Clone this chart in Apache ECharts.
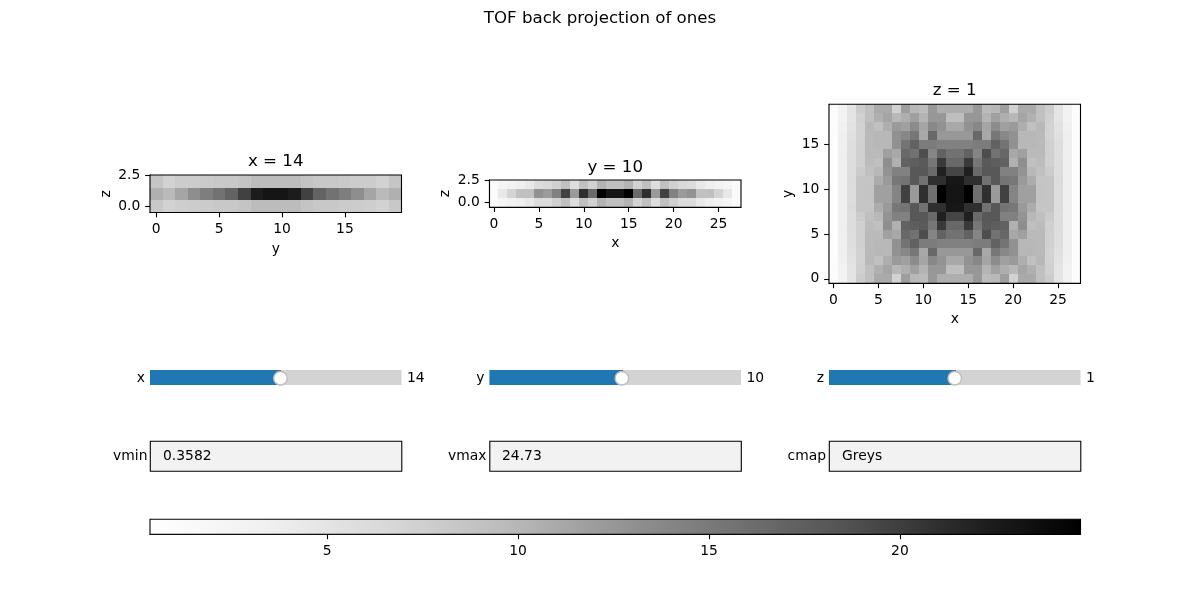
<!DOCTYPE html>
<html>
<head>
<meta charset="utf-8">
<style>html,body{margin:0;padding:0;background:#fff}#chart{width:1200px;height:600px}</style>
<script src="https://cdn.jsdelivr.net/npm/echarts@6/dist/echarts.min.js"></script>
</head>
<body>
<div id="chart"></div>
<script>
const figureTitle = 'TOF back projection of ones';
const vmin = 0.3582;
const vmax = 24.73;
const greysRamp = ['#ffffff','#f0f0f0','#d9d9d9','#bdbdbd','#969696','#737373','#525252','#252525','#000000'];

// Slice at z = 1: one row per y (0 to 19), one value per x (0 to 27)
const sliceZ = [
 [1.0,3.0,5.0,7.9,9.2,11.0,11.0,7.2,11.9,9.9,9.6,12.4,10.7,10.7,10.7,10.7,12.4,9.6,9.9,11.9,7.2,11.0,11.0,9.2,7.9,5.0,3.0,1.0],
 [1.0,3.0,5.0,7.4,9.2,10.5,11.4,9.9,10.7,11.8,10.2,12.5,12.5,9.4,9.4,12.5,12.5,10.2,11.8,10.7,9.9,11.4,10.5,9.2,7.4,5.0,3.0,1.0],
 [1.0,3.4,5.2,7.2,9.9,9.2,10.7,12.2,11.8,13.4,11.4,13.8,12.9,11.1,11.1,12.9,13.8,11.4,13.4,11.8,12.2,10.7,9.2,9.9,7.2,5.2,3.4,1.0],
 [1.0,3.5,5.5,7.2,9.7,10.0,9.9,13.0,13.8,15.2,11.1,16.6,12.4,12.4,12.4,12.4,16.6,11.1,15.2,13.8,13.0,9.9,10.0,9.7,7.2,5.5,3.5,1.0],
 [1.0,3.5,5.8,7.4,9.7,9.9,9.9,13.0,15.5,17.2,14.8,14.8,14.4,14.4,14.4,14.4,14.8,14.8,17.2,15.5,13.0,9.9,9.9,9.7,7.4,5.8,3.5,1.0],
 [1.0,3.5,5.8,7.4,9.7,9.7,11.8,11.1,16.6,15.7,18.9,14.0,17.2,15.7,15.7,17.2,14.0,18.9,15.7,16.6,11.1,11.8,9.7,9.7,7.4,5.8,3.5,1.0],
 [1.0,3.5,5.9,7.4,9.6,9.2,13.2,10.5,17.2,17.5,17.9,15.2,20.3,16.6,16.6,20.3,15.2,17.9,17.5,17.2,10.5,13.2,9.2,9.6,7.4,5.9,3.5,1.0],
 [1.0,3.5,5.9,8.0,9.2,9.9,12.8,14.4,14.4,18.1,18.1,16.4,22.1,19.5,19.5,22.1,16.4,18.1,18.1,14.4,14.4,12.8,9.9,9.2,8.0,5.9,3.5,1.0],
 [1.0,3.5,6.0,8.6,8.6,10.8,12.2,15.2,15.5,18.1,15.7,21.0,21.0,22.8,22.8,21.0,21.0,15.7,18.1,15.5,15.2,12.2,10.8,8.6,8.6,6.0,3.5,1.0],
 [1.0,3.5,5.9,8.6,8.7,11.8,11.8,14.1,19.8,12.2,21.0,16.0,24.73,23.0,23.0,24.73,16.0,21.0,12.2,19.8,14.1,11.8,11.8,8.7,8.6,5.9,3.5,1.0],
 [1.0,3.5,5.9,8.6,8.7,11.8,11.8,14.1,19.8,12.2,21.0,16.0,24.73,23.0,23.0,24.73,16.0,21.0,12.2,19.8,14.1,11.8,11.8,8.7,8.6,5.9,3.5,1.0],
 [1.0,3.5,6.0,8.6,8.6,10.8,12.2,15.2,15.5,18.1,15.7,21.0,21.0,22.8,22.8,21.0,21.0,15.7,18.1,15.5,15.2,12.2,10.8,8.6,8.6,6.0,3.5,1.0],
 [1.0,3.5,5.9,8.0,9.2,9.9,12.8,14.4,14.4,18.1,18.1,16.4,22.1,19.5,19.5,22.1,16.4,18.1,18.1,14.4,14.4,12.8,9.9,9.2,8.0,5.9,3.5,1.0],
 [1.0,3.5,5.9,7.4,9.6,9.2,13.2,10.5,17.2,17.5,17.9,15.2,20.3,16.6,16.6,20.3,15.2,17.9,17.5,17.2,10.5,13.2,9.2,9.6,7.4,5.9,3.5,1.0],
 [1.0,3.5,5.8,7.4,9.7,9.7,11.8,11.1,16.6,15.7,18.9,14.0,17.2,15.7,15.7,17.2,14.0,18.9,15.7,16.6,11.1,11.8,9.7,9.7,7.4,5.8,3.5,1.0],
 [1.0,3.5,5.8,7.4,9.7,9.9,9.9,13.0,15.5,17.2,14.8,14.8,14.4,14.4,14.4,14.4,14.8,14.8,17.2,15.5,13.0,9.9,9.9,9.7,7.4,5.8,3.5,1.0],
 [1.0,3.5,5.5,7.2,9.7,10.0,9.9,13.0,13.8,15.2,11.1,16.6,12.4,12.4,12.4,12.4,16.6,11.1,15.2,13.8,13.0,9.9,10.0,9.7,7.2,5.5,3.5,1.0],
 [1.0,3.4,5.2,7.2,9.9,9.2,10.7,12.2,11.8,13.4,11.4,13.8,12.9,11.1,11.1,12.9,13.8,11.4,13.4,11.8,12.2,10.7,9.2,9.9,7.2,5.2,3.4,1.0],
 [1.0,3.0,5.0,7.4,9.2,10.5,11.4,9.9,10.7,11.8,10.2,12.5,12.5,9.4,9.4,12.5,12.5,10.2,11.8,10.7,9.9,11.4,10.5,9.2,7.4,5.0,3.0,1.0],
 [1.0,3.0,5.0,7.9,9.2,11.0,11.0,7.2,11.9,9.9,9.6,12.4,10.7,10.7,10.7,10.7,12.4,9.6,9.9,11.9,7.2,11.0,11.0,9.2,7.9,5.0,3.0,1.0]
];

// Slice at x = 14: one row per z (0 to 2), one value per y (0 to 19)
const sliceX = [
 [8.3,7.2,7.7,7.9,8.0,8.3,8.3,8.7,9.6,9.6,9.6,9.6,8.7,8.3,8.3,8.0,7.9,7.7,7.2,8.3],
 [10.5,9.7,11.4,13.2,14.6,15.7,17.1,19.8,22.4,23.0,23.0,22.4,19.8,17.1,15.7,14.6,13.2,11.4,9.7,10.5],
 [8.6,7.2,7.9,7.9,8.1,8.3,8.3,8.7,9.6,9.6,9.6,9.6,8.7,8.3,8.3,8.1,7.9,7.9,7.2,8.6]
];

// Slice at y = 10: one row per z (0 to 2), one value per x (0 to 27)
const sliceY = [
 [1.4,2.4,3.0,3.6,4.4,6.0,6.0,7.4,9.2,5.8,9.2,7.2,10.3,9.3,9.3,10.3,7.2,9.2,5.8,9.2,7.4,6.0,6.0,4.4,3.6,3.0,2.4,1.4],
 [1.4,4.4,7.0,9.2,9.2,12.9,12.2,14.4,19.8,12.2,21.0,16.4,24.73,23.0,23.0,24.73,16.4,21.0,12.2,19.8,14.4,12.2,12.9,9.2,9.2,7.0,4.4,1.4],
 [1.4,2.4,3.0,3.6,4.4,6.0,6.5,7.4,9.2,5.8,9.2,7.2,10.3,9.3,9.3,10.3,7.2,9.2,5.8,9.2,7.4,6.5,6.0,4.4,3.6,3.0,2.4,1.4]
];

const xTicksWide = [0, 5, 10, 15, 20, 25];
const yTicksTall = [0, 5, 10, 15];
const yxTicks = [0, 5, 10, 15];
const zTicks = [0, 2.5];
const colorbarTicks = [5, 10, 15, 20];

const panelTitles = ['x = 14', 'y = 10', 'z = 1'];
const panelXNames = ['y', 'x', 'x'];
const panelYNames = ['z', 'z', 'y'];
const sliderNames = ['x', 'y', 'z'];
const sliderValues = [14, 10, 1];
const sliderMax = [27, 19, 2];
const boxNames = ['vmin', 'vmax', 'cmap'];
const boxValues = ['0.3582', '24.73', 'Greys'];

const FONT = 'DejaVu Sans';
const TICK_SIZE = 13.89;
const TITLE_SIZE = 16.67;

const toCells = rows => rows.flatMap((row, j) => row.map((v, i) => [i, j, v]));

const columns = [
  { left: 150, right: 401.5 },
  { left: 489.5, right: 741 },
  { left: 829, right: 1080.5 }
];

const panelGrids = [
  { left: 150, top: 175, width: 251.5, height: 37.5 },
  { left: 489.5, top: 180, width: 251.5, height: 27.2 },
  { left: 829, top: 104.3, width: 251.5, height: 179 }
];

// One image cell, snapped to whole pixels so neighbouring cells leave no seam
function cellItem(params, api) {
  const x = api.value(0), y = api.value(1);
  const p = api.coord([x - 0.5, y + 0.5]);
  const q = api.coord([x + 0.5, y - 0.5]);
  const x0 = Math.round(p[0]), y0 = Math.round(p[1]);
  return {
    type: 'rect',
    shape: { x: x0, y: y0, width: Math.round(q[0]) - x0, height: Math.round(q[1]) - y0 },
    style: { fill: api.visual('color') }
  };
}

function tickedAxis(opts) {
  const customValues = opts.ticks;
  return {
    type: 'value',
    gridIndex: opts.grid,
    position: opts.position,
    min: opts.min,
    max: opts.max,
    scale: true,
    splitLine: { show: false },
    axisLine: { show: true, onZero: false, lineStyle: { color: '#000', width: 1.1 } },
    axisTick: { show: true, length: 4.86, lineStyle: { color: '#000', width: 1.1 }, customValues },
    axisLabel: {
      show: true, customValues, margin: 9.7, color: '#000',
      fontFamily: FONT, fontSize: TICK_SIZE,
      padding: opts.position === 'left' ? [2, 0, 0, 0] : 0,
      showMinLabel: true, showMaxLabel: true,
      formatter: opts.format || (v => String(v))
    },
    name: opts.name,
    nameLocation: 'middle',
    nameGap: opts.nameGap,
    nameRotate: opts.nameRotate,
    nameTextStyle: { color: '#000', fontFamily: FONT, fontSize: TICK_SIZE }
  };
}

const grids = [];
const xAxes = [];
const yAxes = [];
const seriesList = [];

// Three image slices
const panelData = [sliceX, sliceY, sliceZ];
const panelXTicks = [yxTicks, xTicksWide, xTicksWide];
const panelYTicks = [zTicks, zTicks, yTicksTall];
const xNameGaps = [29.5, 29, 29];
const yNameGaps = [37, 37, 34];
panelGrids.forEach((g, i) => {
  const rows = panelData[i];
  grids.push({ ...g, show: true, z: 5, borderColor: '#000', borderWidth: 1.1, backgroundColor: 'transparent' });
  xAxes.push(tickedAxis({ grid: i, position: 'bottom', min: -0.5, max: rows[0].length - 0.5,
    ticks: panelXTicks[i], name: panelXNames[i], nameGap: xNameGaps[i] }));
  yAxes.push(tickedAxis({ grid: i, position: 'left', min: -0.5, max: rows.length - 0.5,
    ticks: panelYTicks[i], name: panelYNames[i], nameGap: yNameGaps[i], nameRotate: 90,
    format: i < 2 ? (v => v.toFixed(1)) : undefined }));
  seriesList.push({
    type: 'custom', xAxisIndex: i, yAxisIndex: i, coordinateSystem: 'cartesian2d',
    encode: { x: 0, y: 1 }, renderItem: cellItem, data: toCells(rows), silent: true, clip: true
  });
});

// Slider tracks with their fill, initial-value marker and handle
sliderNames.forEach((name, i) => {
  const idx = 3 + i;
  grids.push({ left: columns[i].left, width: columns[i].right - columns[i].left, top: 370, height: 15 });
  xAxes.push({ type: 'value', gridIndex: idx, min: 0, max: sliderMax[i], show: false });
  yAxes.push({ type: 'category', gridIndex: idx, data: [name], show: false });
  seriesList.push({
    type: 'bar', xAxisIndex: idx, yAxisIndex: idx, data: [sliderValues[i]], barWidth: '100%', silent: true,
    itemStyle: { color: '#1f77b4' }, showBackground: true, backgroundStyle: { color: '#d3d3d3' },
    markLine: {
      silent: true, symbol: 'none', animation: false, label: { show: false },
      lineStyle: { color: '#ff0000', width: 1, type: 'solid' }, data: [{ xAxis: sliderValues[i] }]
    }
  });
  seriesList.push({
    type: 'scatter', xAxisIndex: idx, yAxisIndex: idx, z: 10, silent: true,
    data: [[sliderValues[i], name]], symbol: 'circle', symbolSize: 13.5, symbolOffset: [0, 0.8],
    itemStyle: { color: '#ffffff', borderColor: '#bebebe', borderWidth: 1.4, opacity: 1 }
  });
});

// Colorbar along the bottom
grids.push({ left: 150, top: 519.3, width: 930.5, height: 15, show: true, z: 5,
  borderColor: '#000', borderWidth: 1.1, backgroundColor: 'transparent' });
xAxes.push(tickedAxis({ grid: 6, position: 'bottom', min: vmin, max: vmax, ticks: colorbarTicks }));
yAxes.push({ type: 'value', gridIndex: 6, min: 0, max: 1, show: false });
seriesList.push({
  type: 'custom', xAxisIndex: 6, yAxisIndex: 6, coordinateSystem: 'cartesian2d', silent: true,
  encode: { x: [0, 1] }, data: [[vmin, vmax]],
  renderItem(params, api) {
    const a = api.coord([api.value(0), 1]);
    const b = api.coord([api.value(1), 0]);
    return {
      type: 'rect',
      shape: { x: a[0], y: a[1], width: b[0] - a[0], height: b[1] - a[1] },
      style: {
        fill: new echarts.graphic.LinearGradient(0, 0, 1, 0,
          greysRamp.map((color, k) => ({ offset: k / (greysRamp.length - 1), color })))
      }
    };
  }
});

// Figure title, panel titles, slider captions and text boxes
const label = (text, x, y, textAlign, fontSize) => ({
  type: 'text', x, y, z: 20, silent: true,
  style: { text, fill: '#000', font: `${fontSize || TICK_SIZE}px "${FONT}"`, textAlign, textVerticalAlign: 'middle' }
});
const graphics = [label(figureTitle, 600, 19, 'center', TITLE_SIZE)];
const titleRows = [162, 167.5, 91];
panelTitles.forEach((t, i) => {
  graphics.push(label(t, panelGrids[i].left + panelGrids[i].width / 2, titleRows[i], 'center', TITLE_SIZE));
});
const boxCaptionEnds = [147.5, 486.5, 826];
const boxTextStarts = [163, 502, 842];
sliderNames.forEach((name, i) => {
  graphics.push(label(name, columns[i].left - 5, 378.5, 'right'));
  graphics.push(label(String(sliderValues[i]), columns[i].right + 5.5, 378.5, 'left'));
  graphics.push({
    type: 'rect', z: 3, silent: true,
    shape: { x: columns[i].left + 0.3, y: 441.3, width: columns[i].right - columns[i].left, height: 30 },
    style: { fill: '#f2f2f2', stroke: '#000', lineWidth: 1.1 }
  });
  graphics.push(label(boxNames[i], boxCaptionEnds[i], 456.5, 'right'));
  graphics.push(label(boxValues[i], boxTextStarts[i], 456.5, 'left'));
});

const chart = echarts.init(document.getElementById('chart'), null, { renderer: 'canvas' });
chart.setOption({
  animation: false,
  backgroundColor: '#ffffff',
  textStyle: { fontFamily: FONT },
  tooltip: { show: false },
  grid: grids,
  xAxis: xAxes,
  yAxis: yAxes,
  visualMap: {
    show: false, type: 'continuous', seriesIndex: [0, 1, 2], dimension: 2,
    min: vmin, max: vmax, inRange: { color: greysRamp }
  },
  series: seriesList,
  graphic: graphics
});
</script>
</body>
</html>
